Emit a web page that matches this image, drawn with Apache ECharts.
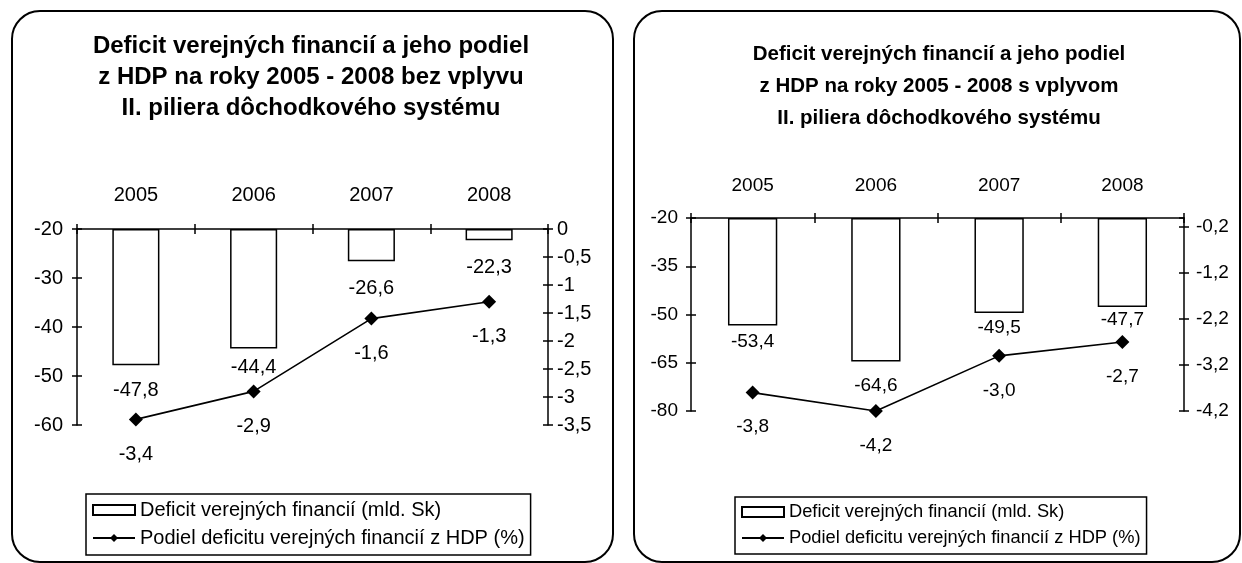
<!DOCTYPE html>
<html>
<head>
<meta charset="utf-8">
<script src="https://cdn.jsdelivr.net/npm/echarts@6/dist/echarts.min.js"></script>
<style>
  html, body { margin: 0; padding: 0; background: #fff; }
  #main { width: 1242px; height: 563px; }
</style>
</head>
<body>
<div id="main"></div>
<script>
var years = ['2005', '2006', '2007', '2008'];
var deficitBez = [-47.8, -44.4, -26.6, -22.3];
var podielBez = [-3.4, -2.9, -1.6, -1.3];
var deficitS = [-53.4, -64.6, -49.5, -47.7];
var podielS = [-3.8, -4.2, -3.0, -2.7];
// [min, max, interval]
var leftAxisBez = [-60, -20, 10];
var rightAxisBez = [-3.5, 0, 0.5];
var leftAxisS = [-80, -20, 15];
var rightAxisS = [-4.2, 0, 1];
var nameBar = 'Deficit verejných financií (mld. Sk)';
var nameLine = 'Podiel deficitu verejných financií z HDP (%)';

var font = '"Liberation Sans", Arial, sans-serif';
// gap under each bar label (styling only)
var barGapBez = [15, 9, 17, 17];
var barGapS = [7, 15, 5, 3];

function comma(v) {
    return String(Number(v.toFixed(2))).replace('.', ',');
}
function comma1(v) {
    return v.toFixed(1).replace('.', ',');
}

var dom = document.getElementById('main');
var myChart = echarts.init(dom);

function xAxes(grid, fs, margin) {
    return [
        {
            type: 'category', gridIndex: grid, position: 'top', data: years,
            axisLine: {lineStyle: {color: '#000', width: 1.5}},
            axisTick: {show: true, length: 5, lineStyle: {color: '#000', width: 1.5}},
            axisLabel: {color: '#000', fontSize: fs, fontFamily: font, margin: margin}
        },
        {
            type: 'category', gridIndex: grid, position: 'top', data: years,
            axisLine: {show: false},
            axisTick: {show: true, inside: true, length: 5, lineStyle: {color: '#000', width: 1.5}},
            axisLabel: {show: false}
        }
    ];
}

function yAxes(grid, range, side, fs, margin, hideMax) {
    var main = {
        type: 'value', gridIndex: grid, position: side,
        min: range[0], max: range[1], interval: range[2],
        startValue: side === 'left' ? range[1] : undefined,
        splitLine: {show: false},
        axisLine: {show: true, lineStyle: {color: '#000', width: 1.5}},
        axisTick: {show: true, length: 5, lineStyle: {color: '#000', width: 1.5}},
        axisLabel: {
            color: '#000', fontSize: fs, fontFamily: font, margin: margin,
            showMaxLabel: !hideMax,
            formatter: function (v) { return comma(v); }
        }
    };
    var twin = {
        type: 'value', gridIndex: grid, position: side,
        min: range[0], max: range[1], interval: range[2],
        splitLine: {show: false},
        axisLine: {show: false},
        axisTick: {show: true, inside: true, length: 5, lineStyle: {color: '#000', width: 1.5}},
        axisLabel: {show: false}
    };
    return [main, twin];
}

function barSeries(yIdx, xIdx, values, gaps, fs) {
    return {
        name: nameBar,
        type: 'bar',
        xAxisIndex: xIdx,
        yAxisIndex: yIdx,
        barWidth: '40%',
        clip: true,
        data: values.map(function (v, i) {
            return {value: v, label: {distance: gaps[i]}};
        }),
        itemStyle: {color: '#fff', borderColor: '#000', borderWidth: 1.5},
        label: {
            show: true, position: 'bottom', color: '#000',
            fontSize: fs, fontFamily: font,
            formatter: function (p) { return comma1(p.value); }
        }
    };
}

function lineSeries(xIdx, yIdx, values, fs) {
    return {
        name: nameLine,
        type: 'line',
        xAxisIndex: xIdx,
        yAxisIndex: yIdx,
        data: values,
        symbol: 'diamond',
        symbolSize: 14,
        z: 5,
        itemStyle: {color: '#000'},
        lineStyle: {color: '#000', width: 1.6},
        label: {
            show: true, position: 'bottom', distance: 18, color: '#000',
            fontSize: fs, fontFamily: font,
            formatter: function (p) { return comma1(p.value); }
        }
    };
}

var xa = xAxes(0, 20, 24).concat(xAxes(1, 19, 23));
var ya = yAxes(0, leftAxisBez, 'left', 20, 14, false)
    .concat(yAxes(0, rightAxisBez, 'right', 20, 9, false))
    .concat(yAxes(1, leftAxisS, 'left', 19, 13, false))
    .concat(yAxes(1, rightAxisS, 'right', 19, 12, true));

function legend(left, top, fs) {
    return {
        orient: 'vertical',
        left: left, top: top,
        borderColor: '#000', borderWidth: 1.5,
        padding: [6, 6, 7, 6],
        itemGap: 8,
        itemWidth: 42, itemHeight: 10,
        selectedMode: false,
        textStyle: {color: '#000', fontSize: fs, fontFamily: font},
        data: [{name: nameBar, icon: 'rect'}, {name: nameLine}]
    };
}

var option = {
    animation: false,
    backgroundColor: '#fff',
    title: [
        {
            text: 'Deficit verejných financií a jeho podiel\nz HDP na roky 2005 - 2008 bez vplyvu\nII. piliera dôchodkového systému',
            left: 311, top: 31, textAlign: 'center', padding: 0,
            textStyle: {color: '#000', fontSize: 24, fontWeight: 'bold', fontFamily: font, lineHeight: 31}
        },
        {
            text: 'Deficit verejných financií a jeho podiel\nz HDP na roky 2005 - 2008 s vplyvom\nII. piliera dôchodkového systému',
            left: 939, top: 38, textAlign: 'center', padding: 0,
            textStyle: {color: '#000', fontSize: 20.5, fontWeight: 'bold', fontFamily: font, lineHeight: 32}
        }
    ],
    legend: [legend(86, 494, 20), legend(735, 497, 18.3)],
    grid: [
        {left: 77, top: 229, width: 471, height: 196},
        {left: 691, top: 218, width: 493, height: 193}
    ],
    xAxis: xa,
    yAxis: ya,
    graphic: [
        {type: 'rect', shape: {x: 12, y: 11, width: 601, height: 551, r: 28},
            style: {fill: 'none', stroke: '#000', lineWidth: 2}, silent: true},
        {type: 'rect', shape: {x: 634, y: 11, width: 606, height: 551, r: 28},
            style: {fill: 'none', stroke: '#000', lineWidth: 2}, silent: true}
    ],
    series: [
        barSeries(0, 0, deficitBez, barGapBez, 20),
        lineSeries(0, 2, podielBez, 20),
        barSeries(4, 2, deficitS, barGapS, 19),
        lineSeries(2, 6, podielS, 19)
    ]
};
myChart.setOption(option, true);
window.onresize = myChart.resize;
</script>
</body>
</html>
